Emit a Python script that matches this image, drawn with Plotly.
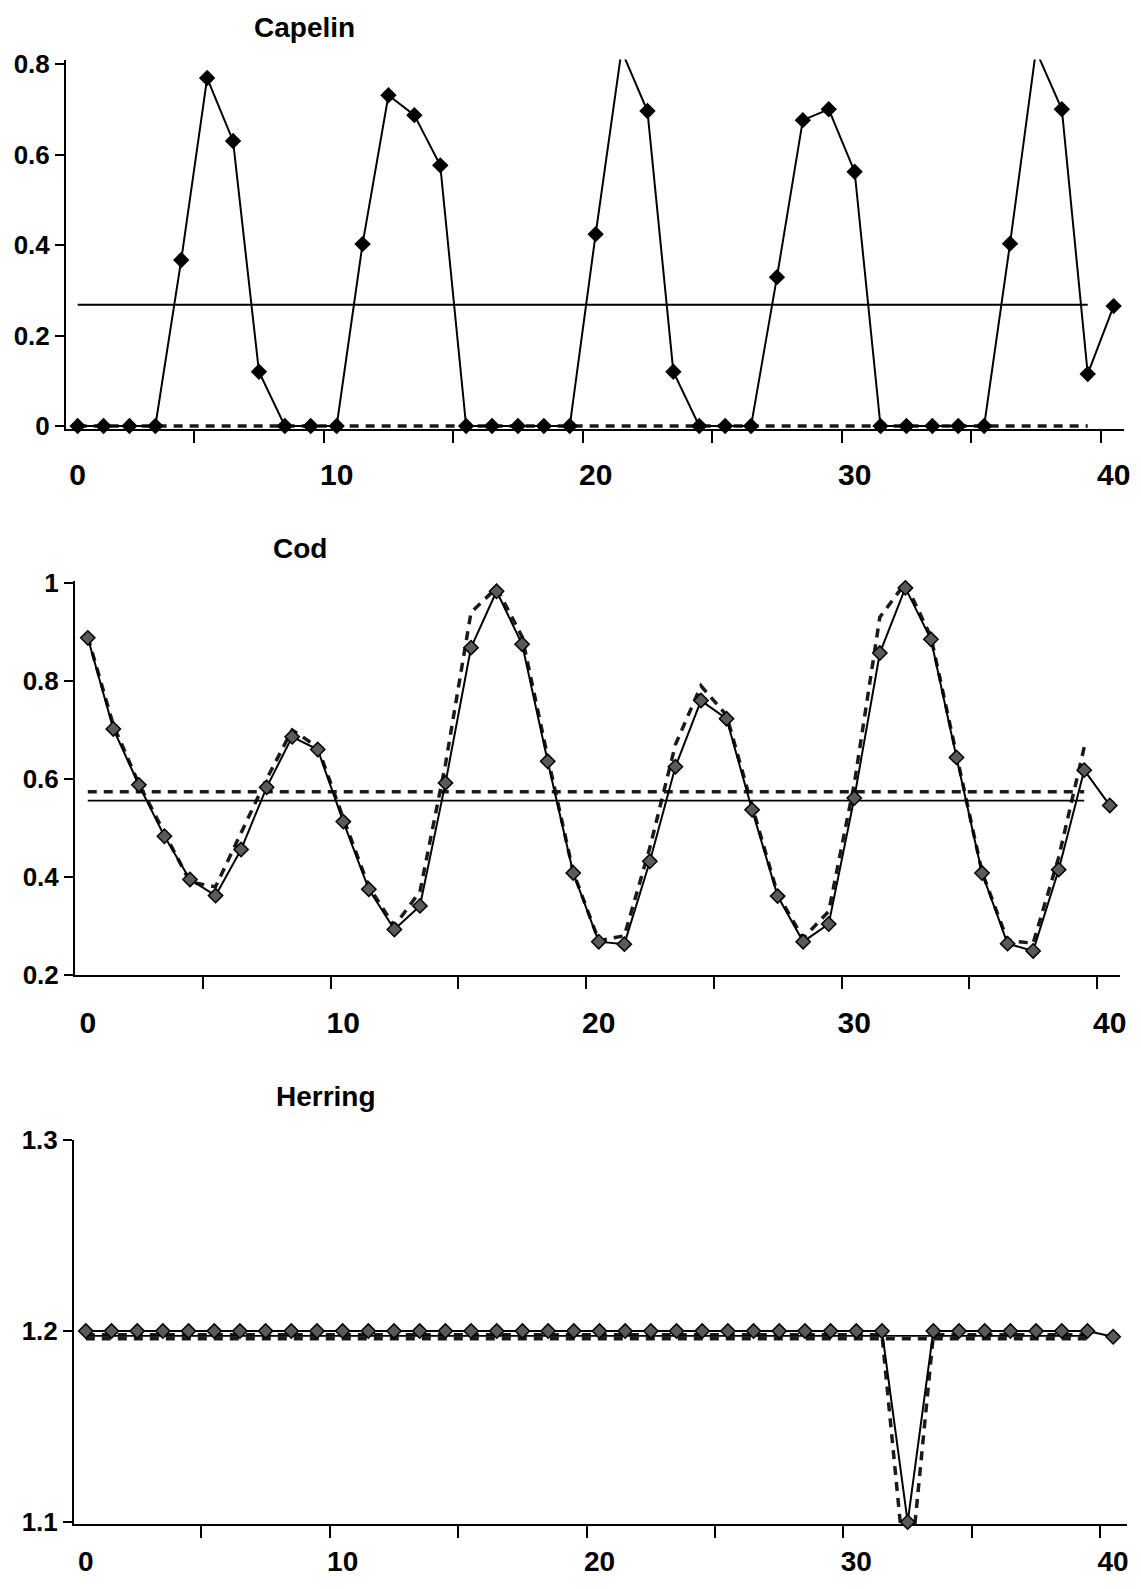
import plotly.graph_objects as go

# ---------------- data ----------------
t_obs = list(range(41))          # 0..40
t_model = list(range(40))        # 0..39
x_label_vals = [0, 10, 20, 30, 40]
x_label_text = ["0", "10", "20", "30", "40"]

capelin_obs = [0, 0, 0, 0, 0.367, 0.769, 0.630, 0.120, 0, 0,
               0, 0.402, 0.731, 0.687, 0.576, 0, 0, 0, 0, 0,
               0.424, 0.830, 0.696, 0.120, 0, 0, 0, 0.329, 0.676, 0.700,
               0.562, 0, 0, 0, 0, 0, 0.403, 0.830, 0.700, 0.115,
               0.265]
capelin_model = [0, 0, 0, 0, 0, 0, 0, 0, 0, 0,
                 0, 0, 0, 0, 0, 0, 0, 0, 0, 0,
                 0, 0, 0, 0, 0, 0, 0, 0, 0, 0,
                 0, 0, 0, 0, 0, 0, 0, 0, 0, 0]
capelin_mean_obs = 0.268

cod_obs = [0.888, 0.702, 0.588, 0.483, 0.395, 0.362, 0.456, 0.583, 0.686, 0.660,
           0.513, 0.375, 0.293, 0.341, 0.592, 0.868, 0.983, 0.875, 0.636, 0.408,
           0.268, 0.263, 0.432, 0.625, 0.760, 0.723, 0.537, 0.361, 0.268, 0.304,
           0.561, 0.857, 0.990, 0.885, 0.644, 0.408, 0.264, 0.249, 0.415, 0.618,
           0.546]
cod_model = [0.890, 0.710, 0.590, 0.490, 0.390, 0.380, 0.490, 0.600, 0.700, 0.665,
             0.520, 0.380, 0.300, 0.370, 0.630, 0.940, 0.990, 0.890, 0.645, 0.410,
             0.270, 0.280, 0.460, 0.670, 0.790, 0.730, 0.545, 0.365, 0.275, 0.330,
             0.590, 0.930, 1.000, 0.890, 0.650, 0.410, 0.270, 0.265, 0.440, 0.665]
cod_mean_obs = 0.556
cod_mean_model = 0.574

herring_obs = [1.200, 1.200, 1.200, 1.200, 1.200, 1.200, 1.200, 1.200, 1.200, 1.200,
               1.200, 1.200, 1.200, 1.200, 1.200, 1.200, 1.200, 1.200, 1.200, 1.200,
               1.200, 1.200, 1.200, 1.200, 1.200, 1.200, 1.200, 1.200, 1.200, 1.200,
               1.200, 1.200, 1.100, 1.200, 1.200, 1.200, 1.200, 1.200, 1.200, 1.200,
               1.197]
herring_model = [1.198, 1.198, 1.198, 1.198, 1.198, 1.198, 1.198, 1.198, 1.198, 1.198,
                 1.198, 1.198, 1.198, 1.198, 1.198, 1.198, 1.198, 1.198, 1.198, 1.198,
                 1.198, 1.198, 1.198, 1.198, 1.198, 1.198, 1.198, 1.198, 1.198, 1.198,
                 1.198, 1.198, 1.060, 1.198, 1.198, 1.198, 1.198, 1.198, 1.198, 1.198]
herring_mean_obs = 1.1975
herring_mean_model = 1.196

capelin_yticks = [0, 0.2, 0.4, 0.6, 0.8]
capelin_ytext = ["0", "0.2", "0.4", "0.6", "0.8"]
cod_yticks = [0.2, 0.4, 0.6, 0.8, 1.0]
cod_ytext = ["0.2", "0.4", "0.6", "0.8", "1"]
herring_yticks = [1.1, 1.2, 1.3]
herring_ytext = ["1.1", "1.2", "1.3"]

# ---------------- layout helpers ----------------
PAGE_W, PAGE_H = 1141, 1589
BODY = 8                                   # default body margin of the html page
W, H = PAGE_W - 2 * BODY, PAGE_H - 2 * BODY
FONT = "Liberation Sans, Arial, Helvetica, sans-serif"
INK = "black"


def xdom(a, b):  # page pixels -> paper fraction
    return [(a - BODY) / W, min(1.0, (b - BODY) / W)]


def ydom(top, bottom):
    return [1 - (bottom - BODY) / H, 1 - (top - BODY) / H]


minor_marks = [4.5, 9.5, 14.5, 19.5, 24.5, 29.5, 34.5, 39.5]

fig = go.Figure()

panels = [
    dict(name="Capelin", obs=capelin_obs, model=capelin_model, mean_obs=capelin_mean_obs,
         mean_model=None, yt=capelin_yticks, ytt=capelin_ytext,
         xr=[-0.45, 40.4], xpx=(66, 1124), yr=[-0.006, 0.81], ypx=(59.5, 428.7),
         standoff=18, xfs=30, mfill="black", title_xy=(304, 27)),
    dict(name="Cod", obs=cod_obs, model=cod_model, mean_obs=cod_mean_obs,
         mean_model=cod_mean_model, yt=cod_yticks, ytt=cod_ytext,
         xr=[-0.5, 40.4], xpx=(75, 1120), yr=[0.2, 1.005], ypx=(580.5, 975),
         standoff=20, xfs=30, mfill="#5a5a5a", title_xy=(300, 548)),
    dict(name="Herring", obs=herring_obs, model=herring_model, mean_obs=herring_mean_obs,
         mean_model=herring_mean_model, yt=herring_yticks, ytt=herring_ytext,
         xr=[-0.46, 40.54], xpx=(74, 1127), yr=[1.099, 1.3], ypx=(1140, 1524),
         standoff=11, xfs=28, mfill="#5a5a5a", title_xy=(326, 1096)),
]

dash_style = "9px,7px"

for i, p in enumerate(panels):
    k = "" if i == 0 else str(i + 1)
    xa, ya = "x" + k, "y" + k

    # dashed model series
    fig.add_trace(go.Scatter(x=t_model, y=p["model"], mode="lines", xaxis=xa, yaxis=ya,
                             line=dict(color="#1a1a1a", width=3.5, dash=dash_style),
                             showlegend=False, hoverinfo="skip"))
    # dashed mean
    if p["mean_model"] is not None:
        fig.add_trace(go.Scatter(x=[t_model[0], t_model[-1]],
                                 y=[p["mean_model"], p["mean_model"]],
                                 mode="lines", xaxis=xa, yaxis=ya,
                                 line=dict(color="#1a1a1a", width=3.5, dash=dash_style),
                                 showlegend=False, hoverinfo="skip"))
    # solid mean
    fig.add_trace(go.Scatter(x=[t_model[0], t_model[-1]],
                             y=[p["mean_obs"], p["mean_obs"]],
                             mode="lines", xaxis=xa, yaxis=ya,
                             line=dict(color=INK, width=1.8),
                             showlegend=False, hoverinfo="skip"))
    # observed series with diamonds
    fig.add_trace(go.Scatter(x=t_obs, y=p["obs"], mode="lines+markers", xaxis=xa, yaxis=ya,
                             line=dict(color=INK, width=2),
                             marker=dict(symbol="diamond", size=11, color=p["mfill"],
                                         line=dict(color=INK, width=1.5)),
                             cliponaxis=False, showlegend=False))

    fig.layout["xaxis" + k] = dict(
        domain=xdom(*p["xpx"]), range=p["xr"], anchor=ya,
        showline=True, linecolor=INK, linewidth=2, showgrid=False, zeroline=False,
        tickmode="array", tickvals=x_label_vals, ticktext=x_label_text, ticks="",
        minor=dict(tickmode="array", tickvals=minor_marks, ticks="outside",
                   ticklen=12, tickwidth=2, tickcolor=INK, showgrid=False),
        ticklabelstandoff=p["standoff"], ticklabeloverflow="allow",
        tickfont=dict(family=FONT, size=p["xfs"], color=INK, weight="bold"),
        layer="below traces", fixedrange=True, automargin=False,
    )
    fig.layout["yaxis" + k] = dict(
        domain=ydom(*p["ypx"]), range=p["yr"], anchor=xa,
        showline=True, linecolor=INK, linewidth=2, showgrid=False, zeroline=False,
        tickmode="array", tickvals=p["yt"], ticktext=p["ytt"],
        ticks="outside", ticklen=9, tickwidth=2, tickcolor=INK,
        tickfont=dict(family=FONT, size=26, color=INK, weight="bold"),
        layer="below traces", fixedrange=True, automargin=False,
    )
    tx, ty = p["title_xy"]
    fig.add_annotation(text=p["name"], xref="paper", yref="paper",
                       x=(tx - BODY) / W, y=1 - (ty - BODY) / H,
                       xanchor="center", yanchor="middle", showarrow=False,
                       font=dict(family=FONT, size=28, color=INK, weight="bold"))

fig.update_layout(width=W, height=H, margin=dict(l=0, r=0, t=0, b=0),
                  paper_bgcolor="white", plot_bgcolor="white", showlegend=False)

fig.write_html("out.html")
